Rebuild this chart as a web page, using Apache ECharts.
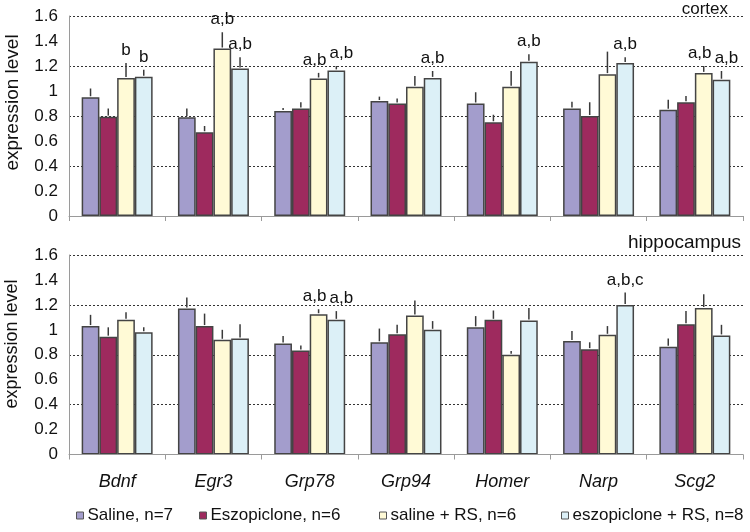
<!DOCTYPE html>
<html>
<head>
<meta charset="utf-8">
<script src="https://cdn.jsdelivr.net/npm/echarts@6/dist/echarts.min.js"></script>
<style>
html,body{margin:0;padding:0;background:#fff;}
#chart{width:750px;height:532px;}
</style>
</head>
<body>
<div id="chart"></div>
<script>
// ---------- data ----------
const categories = ['Bdnf', 'Egr3', 'Grp78', 'Grp94', 'Homer', 'Narp', 'Scg2'];
const groupNames = ['Saline, n=7', 'Eszopiclone, n=6', 'saline + RS, n=6', 'eszopiclone + RS, n=8'];
const panelTitles = ['cortex', 'hippocampus'];
const yAxisName = 'expression level';

// cortex means and SEM (upper error)
const cortexSaline        = [0.95, 0.79, 0.84, 0.92, 0.90, 0.86, 0.85];
const cortexSalineSem     = [0.07, 0.07, 0.025, 0.035, 0.09, 0.055, 0.08];
const cortexEszo          = [0.795, 0.67, 0.86, 0.90, 0.75, 0.80, 0.91];
const cortexEszoSem       = [0.065, 0.05, 0.05, 0.04, 0.06, 0.11, 0.05];
const cortexSalineRS      = [1.105, 1.34, 1.10, 1.035, 1.035, 1.135, 1.145];
const cortexSalineRSSem   = [0.12, 0.13, 0.045, 0.085, 0.125, 0.18, 0.055];
const cortexEszoRS        = [1.115, 1.18, 1.165, 1.105, 1.235, 1.225, 1.09];
const cortexEszoRSSem     = [0.055, 0.09, 0.035, 0.055, 0.06, 0.045, 0.07];
const cortexSalineRSSig   = ['b', 'a,b', 'a,b', '', '', '', 'a,b'];
const cortexEszoRSSig     = ['b', 'a,b', 'a,b', 'a,b', 'a,b', 'a,b', 'a,b'];

// hippocampus means and SEM
const hippoSaline         = [1.03, 1.17, 0.89, 0.90, 1.02, 0.91, 0.865];
const hippoSalineSem      = [0.09, 0.09, 0.06, 0.11, 0.09, 0.08, 0.065];
const hippoEszo           = [0.945, 1.03, 0.835, 0.965, 1.08, 0.845, 1.045];
const hippoEszoSem        = [0.075, 0.10, 0.04, 0.075, 0.075, 0.055, 0.105];
const hippoSalineRS       = [1.08, 0.92, 1.125, 1.115, 0.80, 0.96, 1.175];
const hippoSalineRSSem    = [0.06, 0.08, 0.04, 0.12, 0.03, 0.07, 0.11];
const hippoEszoRS         = [0.98, 0.93, 1.08, 1.00, 1.075, 1.20, 0.955];
const hippoEszoRSSem      = [0.04, 0.115, 0.07, 0.07, 0.10, 0.10, 0.085];
const hippoSalineRSSig    = ['', '', 'a,b', '', '', '', ''];
const hippoEszoRSSig      = ['', '', 'a,b', '', '', 'a,b,c', ''];

const yMin = 0, yMax = 1.6, yLabelStep = 0.2, yGridStep = 0.4;

// ---------- styles ----------
const FONT = "'Liberation Sans', Arial, Helvetica, sans-serif";
const colors = ['#a39dcc', '#9e2a5e', '#fffad6', '#dcf0f7'];
const BORDER = '#444';
const CAT_GAP = 0.263;

const empty = ['', '', '', '', '', '', ''];
const panels = [
  { means: [cortexSaline, cortexEszo, cortexSalineRS, cortexEszoRS],
    sems: [cortexSalineSem, cortexEszoSem, cortexSalineRSSem, cortexEszoRSSem],
    sig: [empty, empty, cortexSalineRSSig, cortexEszoRSSig] },
  { means: [hippoSaline, hippoEszo, hippoSalineRS, hippoEszoRS],
    sems: [hippoSalineSem, hippoEszoSem, hippoSalineRSSem, hippoEszoRSSem],
    sig: [empty, empty, hippoSalineRSSig, hippoEszoRSSig] }
];

const grids = [
  { left: 69, right: 7, top: 16, height: 200 },
  { left: 69, right: 7, top: 255, height: 199.5 }
];

const xAxes = [], yAxes = [], series = [];
panels.forEach((p, pi) => {
  xAxes.push({
    type: 'category', gridIndex: pi, data: categories,
    axisLine: { lineStyle: { color: '#9a9a9a', width: 1 } },
    axisTick: { show: true, length: 5, lineStyle: { color: '#9a9a9a' } },
    axisLabel: pi === 1 ? { show: true, fontFamily: FONT, fontSize: 18, fontStyle: 'italic', color: '#111', margin: 18 } : { show: false },
    z: 3
  });
  yAxes.push({
    type: 'value', gridIndex: pi, min: yMin, max: yMax, interval: yLabelStep,
    axisLine: { show: true, lineStyle: { color: '#9a9a9a', width: 1 } },
    axisTick: { show: false },
    splitLine: { show: false },
    axisLabel: { fontFamily: FONT, fontSize: 17, color: '#111', margin: 11 }
  });
  yAxes.push({
    type: 'value', gridIndex: pi, min: yMin, max: yMax, interval: yGridStep,
    axisLine: { show: false }, axisTick: { show: false }, axisLabel: { show: false },
    splitLine: { show: true, lineStyle: { color: '#333', type: [2, 2], width: 1 } }
  });

  p.means.forEach((m, g) => {
    series.push({
      type: 'bar', name: groupNames[g], xAxisIndex: pi, yAxisIndex: pi * 2,
      data: m, barGap: '0%', barCategoryGap: (CAT_GAP * 100) + '%',
      itemStyle: { color: colors[g], borderColor: BORDER, borderWidth: 1.5 },
      emphasis: { disabled: true }, animation: false, z: 2
    });
  });

  p.means.forEach((m, g) => {
    const sems = p.sems[g];
    const sig = p.sig[g];
    series.push({
      type: 'custom', xAxisIndex: pi, yAxisIndex: pi * 2, silent: true, animation: false, z: 4,
      data: categories.map((c, i) => [i, m[i], m[i] + sems[i]]),
      renderItem: function (params, api) {
        const i = api.value(0);
        const band = api.size([1, 0])[0];
        const bw = band * (1 - CAT_GAP) / 4;
        const c0 = api.coord([i, api.value(1)]);
        const c1 = api.coord([i, api.value(2)]);
        const x = c0[0] + (g - 1.5) * bw;
        const children = [{
          type: 'line',
          shape: { x1: x, y1: c0[1] - 1, x2: x, y2: c1[1] },
          style: { stroke: '#3a3a3a', lineWidth: 1.5 }
        }];
        const txt = sig[i];
        if (txt) {
          let dx = 0;
          const top = m[i] + sems[i];
          if (txt.length > 1) {
            if (g === 2 && p.sig[3][i] && Math.abs(top - (p.means[3][i] + p.sems[3][i])) < 0.15) dx = -4;
            if (g === 3 && p.sig[2][i] && Math.abs(top - (p.means[2][i] + p.sems[2][i])) < 0.15) dx = 5;
          }
          children.push({
            type: 'text',
            style: {
              text: txt, x: x + dx, y: c1[1] - 4,
              textAlign: 'center', textVerticalAlign: 'bottom',
              fontFamily: FONT, fontSize: 17, fill: '#111'
            }
          });
        }
        return { type: 'group', children: children };
      }
    });
  });
});

const legendLefts = [76, 199, 379, 561];
const legends = groupNames.map((n, g) => ({
  data: [n], left: legendLefts[g], top: 507, padding: 0,
  icon: 'rect', itemWidth: 7, itemHeight: 7, itemGap: 0,
  itemStyle: { borderColor: '#555', borderWidth: 1 },
  textStyle: { fontFamily: FONT, fontSize: 17, color: '#111', padding: [0, 0, 0, -1] },
  selectedMode: false
}));

const chart = echarts.init(document.getElementById('chart'), null, { renderer: 'canvas' });
chart.setOption({
  animation: false,
  backgroundColor: '#fff',
  grid: grids,
  xAxis: xAxes,
  yAxis: yAxes,
  legend: legends,
  series: series,
  graphic: [
    { type: 'text', x: 728, y: 9, style: { text: panelTitles[0], textAlign: 'right', textVerticalAlign: 'middle', fontFamily: FONT, fontSize: 17, fill: '#111' } },
    { type: 'text', x: 741, y: 243, style: { text: panelTitles[1], textAlign: 'right', textVerticalAlign: 'middle', fontFamily: FONT, fontSize: 19, fill: '#111' } },
    { type: 'text', x: 12.5, y: 102.5, rotation: Math.PI / 2, style: { text: yAxisName, textAlign: 'center', textVerticalAlign: 'middle', fontFamily: FONT, fontSize: 19, fill: '#111' } },
    { type: 'text', x: 12, y: 344, rotation: Math.PI / 2, style: { text: yAxisName, textAlign: 'center', textVerticalAlign: 'middle', fontFamily: FONT, fontSize: 18, fill: '#111' } }
  ]
});
</script>
</body>
</html>
